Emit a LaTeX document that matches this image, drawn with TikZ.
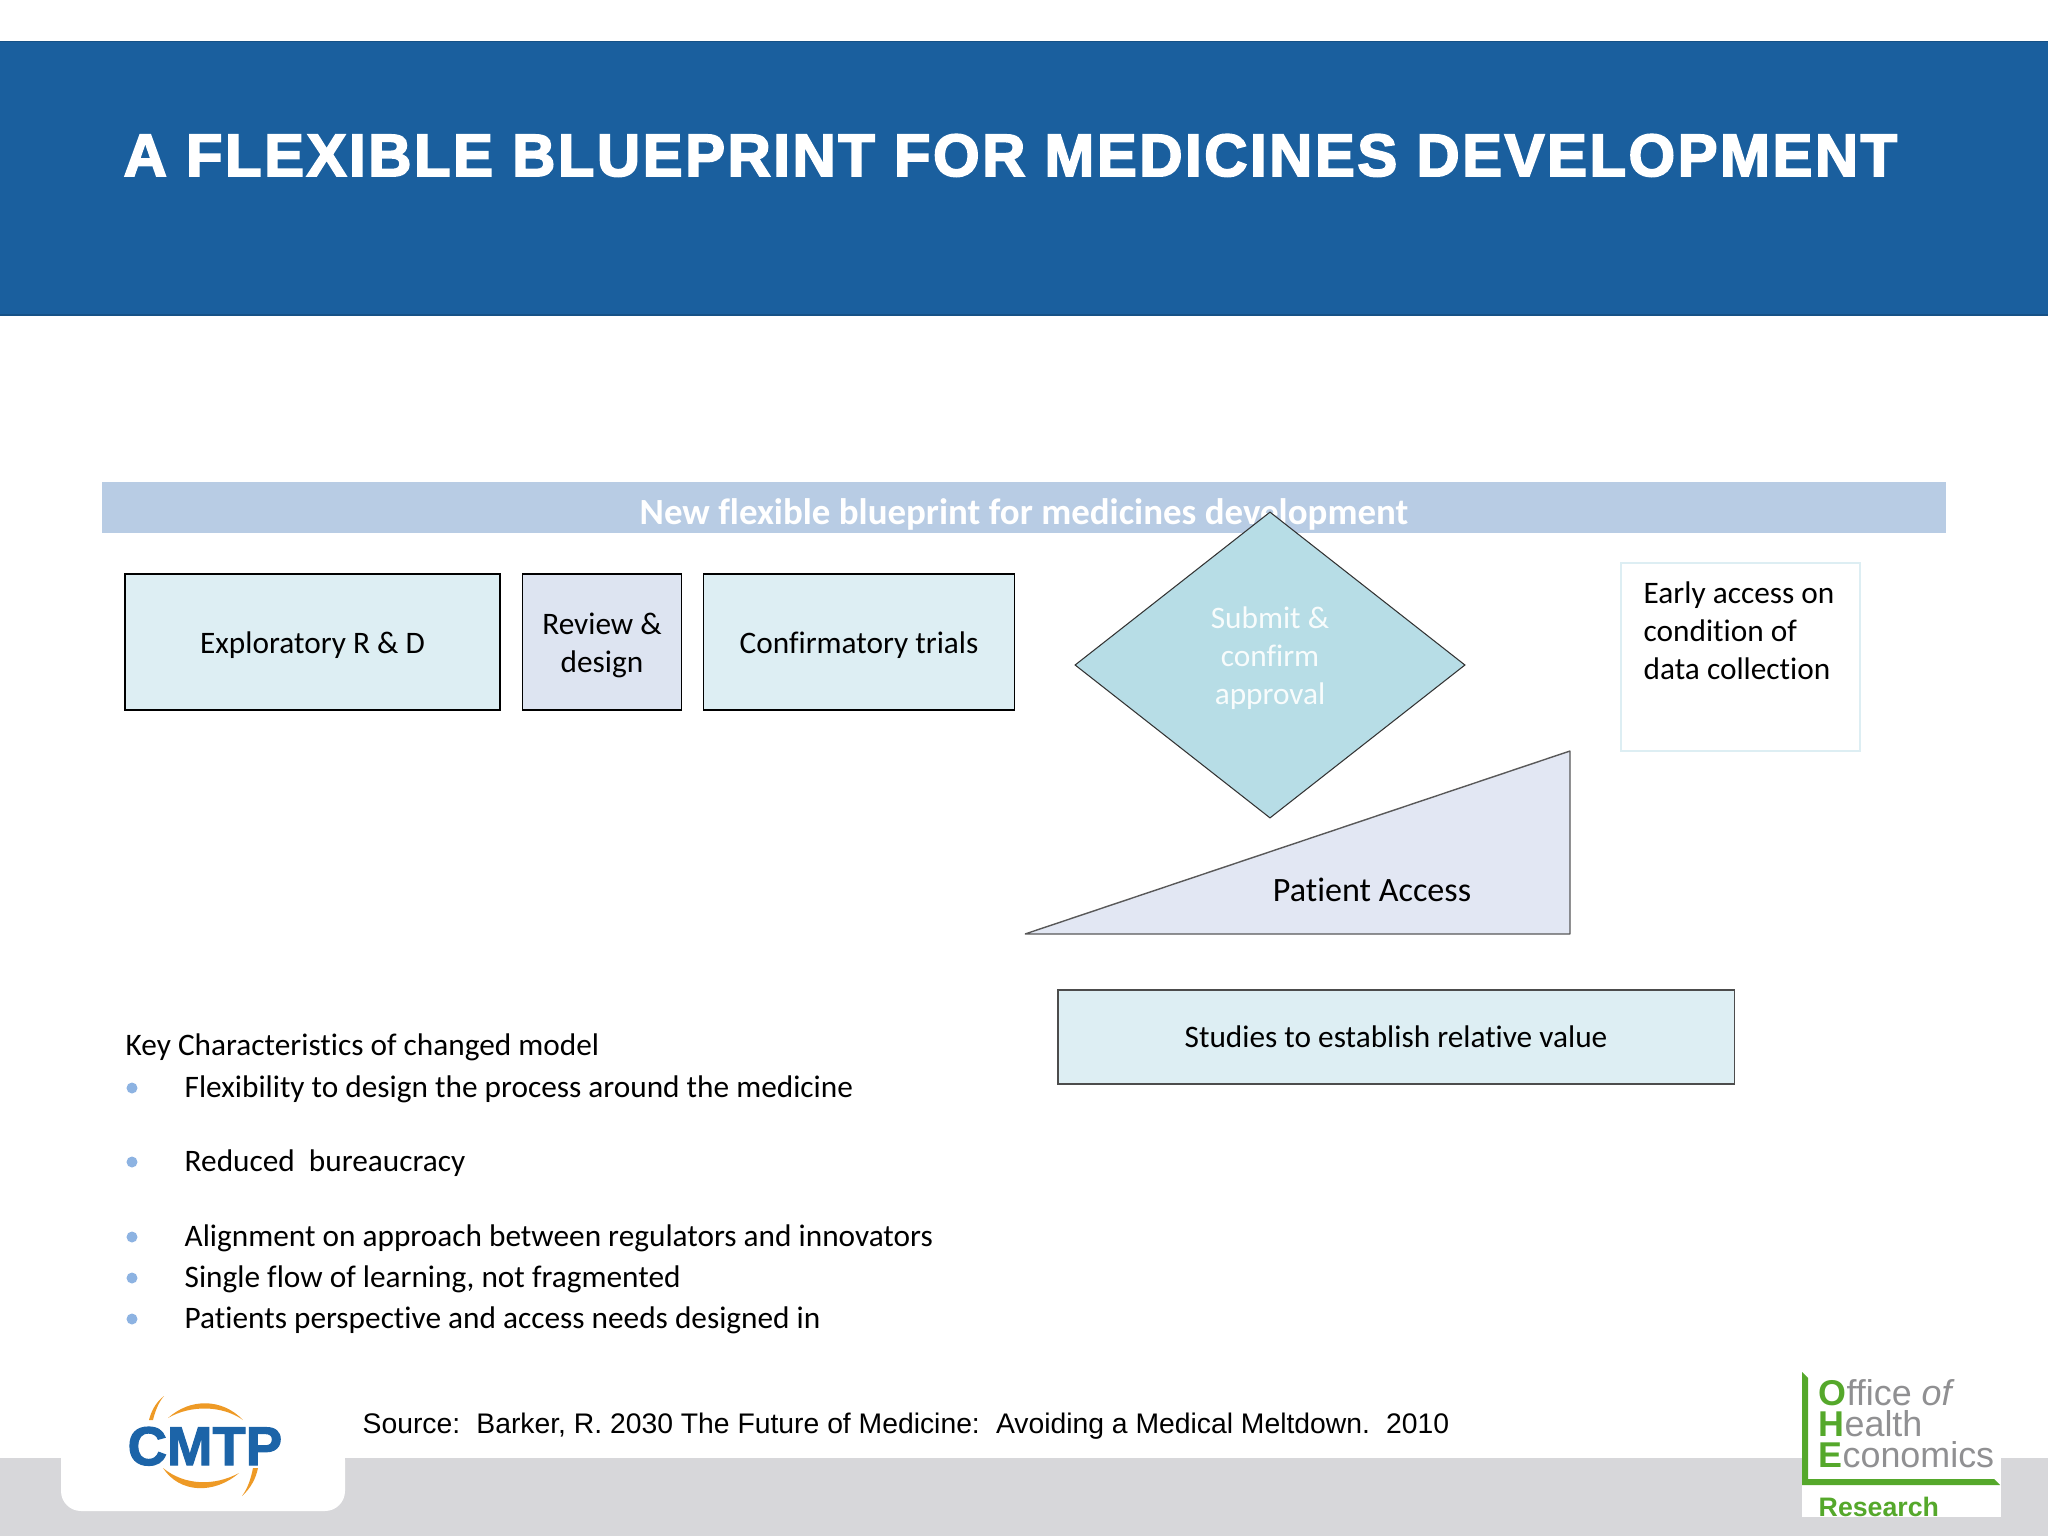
\documentclass[tikz,border=0pt]{standalone}
\usepackage{fontspec}
\setmainfont{Carlito}[Ligatures=NoCommon]
\newfontfamily\srcfont{Liberation Sans}
\newfontfamily\titlefont{Liberation Sans}[BoldFeatures={FakeBold=3,LetterSpace=4.3}]
\newfontfamily\cmtpfont{Liberation Sans}[BoldFeatures={FakeBold=2}]
\usepackage{tikz}
\usetikzlibrary{shapes.geometric}

\definecolor{bannerblue}{HTML}{1A5F9E}
\definecolor{barblue}{HTML}{B8CCE4}
\definecolor{boxteal}{HTML}{DDEEF3}
\definecolor{boxlav}{HTML}{DDE4F1}
\definecolor{diamteal}{HTML}{B7DDE6}
\definecolor{wedgelav}{HTML}{E2E7F3}
\definecolor{footgray}{HTML}{D7D7DA}
\definecolor{dotblue}{HTML}{8DB3E2}
\definecolor{cmtpblue}{HTML}{1C64A8}
\definecolor{cmtporange}{HTML}{EE9A26}
\definecolor{ohegreen}{HTML}{55A82B}
\definecolor{ohegray}{HTML}{909092}

\tikzset{
  bodytxt/.style={font=\fontsize{8.9}{10.8}\selectfont, inner sep=0pt, align=center, text=black},
  stepbox/.style={draw=black, line width=0.5pt, inner sep=0pt, bodytxt},
  listtxt/.style={bodytxt, anchor=west},
  listdot/.style={circle, fill=dotblue, inner sep=0pt, minimum size=0.11cm},
  logotxt/.style={inner sep=0pt, anchor=base west}
}

\begin{document}
\begin{tikzpicture}[x=0.01cm,y=-0.01cm]
  \useasboundingbox (0,0) rectangle (2048,1536);

  %header
  \draw[bannerblue!85!black, line width=0.3pt, fill=bannerblue] (-2,41.5) rectangle (2050,315);
  \node[logotxt, white, font=\fontsize{17}{20}\titlefont\bfseries] (title) at (123,176) {A FLEXIBLE BLUEPRINT FOR MEDICINES DEVELOPMENT};

  %footer
  \fill[footgray] (0,1458) rectangle (2048,1536);
  \fill[white, rounded corners=0.2cm] (61,1440) rectangle (345,1511);

  %bar
  \fill[barblue] (102,482) rectangle (1946,533);
  \node[white, inner sep=0pt, font=\fontsize{10.5}{12}\selectfont\bfseries] (bar) at (1024,514) {New flexible blueprint for medicines development};

  %draw boxes
  \foreach \x/\y/\w/\h/\txt/\boxcol/\name in {312.5/642/3.75/1.36/Exploratory R \& D/boxteal/rnd,
      602/642/1.59/1.36/Review \&\\design/boxlav/review,
      859/642/3.11/1.36/Confirmatory trials/boxteal/trials}{
    \node[stepbox, fill=\boxcol, minimum width=\w cm, minimum height=\h cm] (\name) at (\x,\y) {};
    \node[bodytxt] (\name txt) at (\x,\y+3.5) {\txt};
  }

  \node[stepbox, draw=black!70, line width=0.4pt, fill=boxteal, minimum width=6.76cm, minimum height=0.94cm] (studies) at (1396,1037) {Studies to establish relative value};

  \node[draw=boxteal, line width=0.4pt, minimum width=2.39cm, minimum height=1.88cm, inner sep=0pt] (early) at (1740.5,657) {};
  \node[bodytxt, align=left, anchor=north west] (earlytxt) at (1643,581) {Early access on\\condition of\\data collection};

  %diamond
  \node[diamond, draw=black!80, line width=0.3pt, fill=diamteal, aspect=1.27, inner sep=0pt, minimum width=3.90cm, minimum height=3.06cm] (submit) at (1270,665) {};
  \node[bodytxt, text=white!90!diamteal] (submittxt) at (1270,658) {Submit \&\\confirm\\approval};

  %wedge
  \draw[draw=black!65, line width=0.4pt, fill=wedgelav, line join=bevel] (1025,934) -- (1570,751) -- (1570,934) -- cycle;
  \node[bodytxt, font=\fontsize{9.7}{12}\selectfont] (access) at (1372,890) {Patient Access};

  %list
  \node[listtxt] (key) at (125,1047) {Key Characteristics of changed model};
  \foreach \y/\txt/\name in {1089/Flexibility to design the process around the medicine/flex,
      1163/Reduced~ bureaucracy/red,
      1238/Alignment on approach between regulators and innovators/align,
      1279/{Single flow of learning, not fragmented}/single,
      1320/Patients perspective and access needs designed in/pat}{
    \node[listdot] (dot\name) at (132,\y-1) {};
    \node[listtxt] (\name) at (184,\y) {\txt};
  }

  %source
  \node[logotxt, font=\fontsize{8.05}{10}\srcfont] (source) at (362,1433) {Source:\hspace{0.2em} Barker, R. 2030 The Future of Medicine:\hspace{0.2em} Avoiding a Medical Meltdown.\hspace{0.2em} 2010};

  %cmtp logo
  \node[logotxt, text=cmtpblue, font=\fontsize{15.5}{18}\cmtpfont\bfseries] (cmtp) at (127,1465) {CMTP};
  \fill[cmtporange] (168,1418) .. controls (190,1398) and (222,1398) .. (243,1420) .. controls (222,1405) and (190,1405) .. (168,1418) -- cycle;
  \fill[cmtporange] (164,1396) .. controls (155,1403) and (151,1412) .. (149,1420) -- (153,1420) .. controls (155,1412) and (158,1403) .. (164,1396) -- cycle;
  \fill[cmtporange] (163,1468) .. controls (180,1494) and (215,1494) .. (239,1473) .. controls (215,1486) and (185,1486) .. (163,1468) -- cycle;
  \fill[cmtporange] (242,1496) .. controls (251,1488) and (256,1478) .. (258,1468) -- (253,1468) .. controls (251,1478) and (248,1488) .. (242,1496) -- cycle;

  %ohe logo
  \fill[white] (1802,1458) rectangle (2001,1517);
  \fill[ohegreen] (1802,1372) -- (1808,1378) -- (1808,1479) -- (1994,1479) -- (2000,1485) -- (1802,1485) -- cycle;
  \node[logotxt, text=ohegray, font=\fontsize{10.2}{12}\srcfont] (ohe1) at (1818,1405) {\textcolor{ohegreen}{\bfseries O}ffice \itshape of};
  \node[logotxt, text=ohegray, font=\fontsize{10.2}{12}\srcfont] (ohe2) at (1818,1436) {\textcolor{ohegreen}{\bfseries H}ealth};
  \node[logotxt, text=ohegray, font=\fontsize{10.2}{12}\srcfont] (ohe3) at (1818,1467) {\textcolor{ohegreen}{\bfseries E}conomics};
  \node[logotxt, text=ohegreen, font=\fontsize{7.6}{9}\srcfont\bfseries] (ohe4) at (1818,1516) {Research};
\end{tikzpicture}
\end{document}
